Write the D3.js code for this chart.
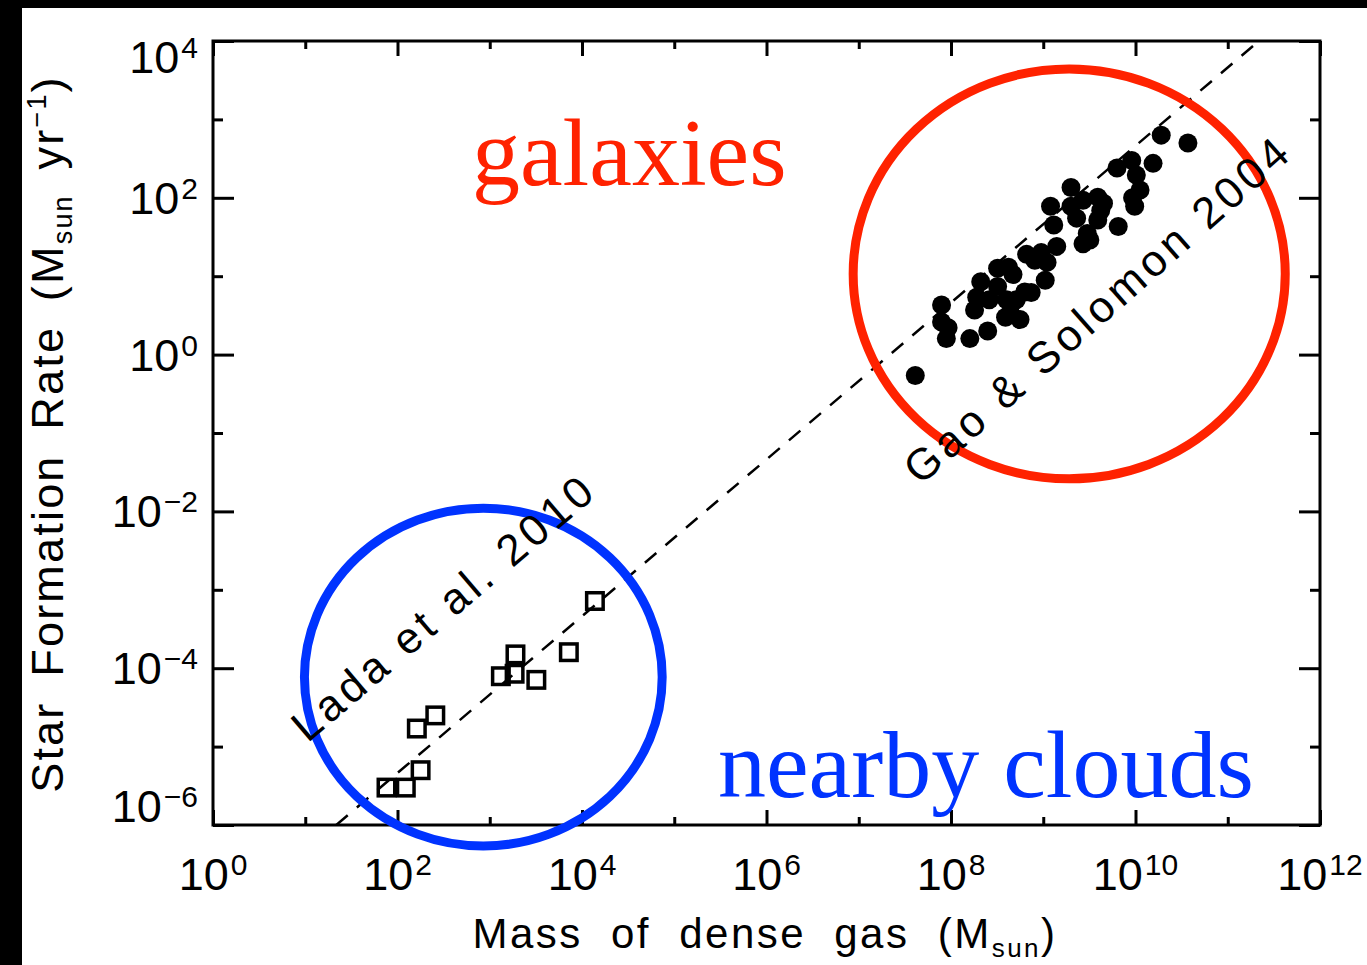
<!DOCTYPE html>
<html>
<head>
<meta charset="utf-8">
<script src="https://cdn.jsdelivr.net/npm/d3@7"></script>
<style>
  body { margin: 0; background: #fff; }
  text { font-family: "Liberation Sans", Arial, sans-serif; }
</style>
</head>
<body>
<svg id="chart" width="1367" height="965"></svg>
<script>
// Star formation rate against dense-gas mass: galaxies and nearby clouds.

// Galaxies (filled circles): dense-gas mass [Msun] and SFR [Msun/yr]
const galaxyMass = [4.1e7, 7.9e7, 7.9e7, 9.3e7, 8.9e7, 1.6e8, 2.5e8, 1.8e8, 2.1e8, 1.9e8,
                    3.2e8, 4.2e8, 3.2e8, 4.4e8, 5.1e8, 4.0e8, 6.3e8, 7.4e8, 1.05e9, 1.1e9,
                    1.4e9, 9.5e8, 6.6e8, 1.2e9, 1.3e9, 2.0e9, 2.0e9, 2.3e9, 2.7e9, 3.2e9,
                    3.9e9, 4.2e9, 3.9e9, 3.0e9, 6.3e9, 9.1e9, 1.55e10, 1.02e10, 1.12e10, 9.3e9,
                    9.8e9, 6.5e9, 1.9e10, 3.7e10, 4.5e9, 2.7e9, 5.6e8, 3.9e8, 2.6e8, 4.7e8, 8.1e8];
const galaxySFR  = [0.54, 4.3, 2.6, 2.2, 1.6, 1.6, 2.0, 3.7, 8.5, 5.4,
                    12.6, 13, 7.4, 3.4, 5.0, 5.0, 6.3, 6.2, 8.9, 15,
                    24, 20, 19, 78, 45, 135, 78, 55, 26, 29,
                    102, 69, 52, 35, 240, 300, 275, 195, 126, 100,
                    78, 43, 630, 500, 85, 93, 2.8, 3.0, 5.0, 10.5, 16];

// Nearby clouds (open squares)
const cloudMass = [1.38e4, 7.2e3, 1.9e3, 1.32e3, 1.86e3, 3.2e3, 257, 162, 178, 123, 76];
const cloudSFR  = [7.2e-4, 1.6e-4, 1.5e-4, 7.9e-5, 8.5e-5, 7.1e-5, 2.5e-5, 1.7e-5, 5.0e-6, 3.0e-6, 3.0e-6];

// Linear relation SFR ∝ M(dense): end points
const fitMass = [21.7, 2.0e11];
const fitSFR  = [1.0e-6, 9.2e3];

// Axis decades
const xMajorExp = [0, 2, 4, 6, 8, 10, 12];
const xMinorExp = [1, 3, 5, 7, 9, 11];
const yMajorExp = [-6, -4, -2, 0, 2, 4];
const yMinorExp = [-5, -3, -1, 1, 3];

// Highlighted regions (bounding boxes in data units)
const cloudRegionMass = [9.8, 7.4e4];
const cloudRegionSFR  = [5.4e-7, 1.1e-2];
const galaxyRegionMass = [8.7e6, 4.2e11];
const galaxyRegionSFR  = [2.6e-2, 4.4e3];

const regionLabels = ["galaxies", "nearby clouds"];
const fitLabels = ["Lada et al. 2010", "Gao & Solomon 2004"];

const W = 1367, H = 965;
const plot = { left: 213, right: 1320, top: 41, bottom: 825 };

const svg = d3.select("#chart");
svg.append("rect").attr("width", W).attr("height", H).attr("fill", "#fff");
// black frame strips
svg.append("rect").attr("x", 0).attr("y", 0).attr("width", W).attr("height", 8).attr("fill", "#000");
svg.append("rect").attr("x", 0).attr("y", 0).attr("width", 22).attr("height", H).attr("fill", "#000");

const x = d3.scaleLog().domain([1, 1e12]).range([plot.left, plot.right]);
const y = d3.scaleLog().domain([1e-6, 1e4]).range([plot.bottom, plot.top]);

const pow = e => Math.pow(10, e);

// Ticks on all four sides, pointing inward
function ticks(axis, vals, size, transform) {
  svg.append("g")
    .attr("transform", transform)
    .call(axis.tickValues(vals.map(pow)).tickSize(-size).tickFormat(""))
    .call(g => g.select(".domain").remove())
    .call(g => g.selectAll("line").attr("stroke", "#000").attr("stroke-width", 3));
}
ticks(d3.axisBottom(x), xMajorExp, 15, `translate(0,${plot.bottom})`);
ticks(d3.axisBottom(x), xMinorExp, 8, `translate(0,${plot.bottom})`);
ticks(d3.axisTop(x), xMajorExp, 15, `translate(0,${plot.top})`);
ticks(d3.axisTop(x), xMinorExp, 8, `translate(0,${plot.top})`);
ticks(d3.axisLeft(y), yMajorExp, 21, `translate(${plot.left},0)`);
ticks(d3.axisLeft(y), yMinorExp, 10, `translate(${plot.left},0)`);
ticks(d3.axisRight(y), yMajorExp, 21, `translate(${plot.right},0)`);
ticks(d3.axisRight(y), yMinorExp, 10, `translate(${plot.right},0)`);

svg.append("rect")
  .attr("x", plot.left).attr("y", plot.top)
  .attr("width", plot.right - plot.left).attr("height", plot.bottom - plot.top)
  .attr("fill", "none").attr("stroke", "#000").attr("stroke-width", 3);

// Power-of-ten tick labels
function powerLabel(px, py, exp, anchor) {
  const t = svg.append("text").attr("x", px).attr("y", py)
    .attr("text-anchor", anchor).attr("font-size", 45).attr("fill", "#000");
  t.append("tspan").text("10");
  t.append("tspan").attr("dx", 2).attr("dy", -15).attr("font-size", 30)
    .text(exp < 0 ? "\u2212" + (-exp) : String(exp));
}
xMajorExp.forEach(e => powerLabel(x(pow(e)), 890, e, "middle"));
// end labels are kept inside the frame
yMajorExp.forEach(e => {
  const cy = Math.min(Math.max(y(pow(e)), plot.top + 16), plot.bottom - 19);
  powerLabel(198, cy + 16, e, "end");
});

// Axis titles
const xt = svg.append("text").attr("x", 765).attr("y", 948)
  .attr("text-anchor", "middle").attr("font-size", 42)
  .attr("letter-spacing", 2.5).attr("word-spacing", 14);
xt.append("tspan").text("Mass of dense gas (M");
xt.append("tspan").attr("font-size", 26).attr("dy", 9).text("sun");
xt.append("tspan").attr("dy", -9).text(")");

const yt = svg.append("text").attr("transform", "translate(63,434) rotate(-90)")
  .attr("text-anchor", "middle").attr("font-size", 45)
  .attr("letter-spacing", 2.2).attr("word-spacing", 10);
yt.append("tspan").text("Star Formation Rate (M");
yt.append("tspan").attr("font-size", 27).attr("dy", 9).text("sun");
yt.append("tspan").attr("dy", -9).text(" yr");
yt.append("tspan").attr("font-size", 27).attr("dy", -17).text("\u22121");
yt.append("tspan").attr("dy", 17).text(")");

// Clip for the relation line
svg.append("clipPath").attr("id", "plotClip")
  .append("rect").attr("x", plot.left).attr("y", plot.top)
  .attr("width", plot.right - plot.left).attr("height", plot.bottom - plot.top);

const line = d3.line().x(d => x(d[0])).y(d => y(d[1]));
svg.append("path")
  .datum(d3.zip(fitMass, fitSFR))
  .attr("d", line)
  .attr("clip-path", "url(#plotClip)")
  .attr("fill", "none").attr("stroke", "#000").attr("stroke-width", 2.5)
  .attr("stroke-dasharray", "15,12");

// Nearby clouds: open squares
const sq = 16.5;
svg.append("g").selectAll("rect")
  .data(d3.zip(cloudMass, cloudSFR))
  .join("rect")
  .attr("x", d => x(d[0]) - sq / 2).attr("y", d => y(d[1]) - sq / 2)
  .attr("width", sq).attr("height", sq)
  .attr("fill", "none").attr("stroke", "#000").attr("stroke-width", 3.5);

// Galaxies: filled circles
svg.append("g").selectAll("circle")
  .data(d3.zip(galaxyMass, galaxySFR))
  .join("circle")
  .attr("cx", d => x(d[0])).attr("cy", d => y(d[1])).attr("r", 9.5)
  .attr("fill", "#000");

// Region outlines
function region(massR, sfrR, color) {
  const x0 = x(massR[0]), x1 = x(massR[1]), y0 = y(sfrR[1]), y1 = y(sfrR[0]);
  svg.append("ellipse")
    .attr("cx", (x0 + x1) / 2).attr("cy", (y0 + y1) / 2)
    .attr("rx", (x1 - x0) / 2).attr("ry", (y1 - y0) / 2)
    .attr("fill", "none").attr("stroke", color).attr("stroke-width", 9);
}
region(cloudRegionMass, cloudRegionSFR, "#0033ff");
region(galaxyRegionMass, galaxyRegionSFR, "#ff2200");

// Region names
svg.append("text").attr("x", 472).attr("y", 185)
  .style("font-family", "'Liberation Serif', 'Times New Roman', serif")
  .attr("font-size", 96).attr("fill", "#ff2200").text(regionLabels[0]);
svg.append("text").attr("x", 718).attr("y", 797)
  .style("font-family", "'Liberation Serif', 'Times New Roman', serif")
  .attr("font-size", 96).attr("fill", "#0033ff").text(regionLabels[1]);

// Reference labels along the relation
function slanted(label, px, py, len, angle) {
  svg.append("text")
    .attr("transform", `translate(${px},${py}) rotate(${-angle})`)
    .attr("text-anchor", "middle").attr("font-size", 44)
    .attr("textLength", len).attr("lengthAdjust", "spacing")
    .text(label);
}
slanted(fitLabels[0], 452, 620, 380, 40.5);
slanted(fitLabels[1], 1106, 322, 496, 41.5);
</script>
</body>
</html>
